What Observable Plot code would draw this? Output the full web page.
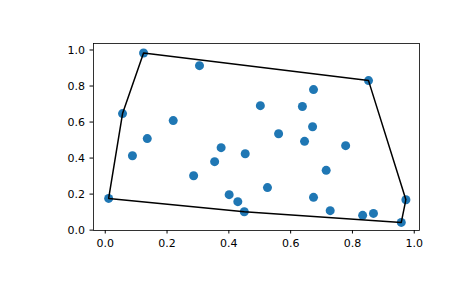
<!DOCTYPE html>
<html>
<head>
<meta charset="utf-8">
<script src="https://cdn.jsdelivr.net/npm/d3@7"></script>
<script src="https://cdn.jsdelivr.net/npm/@observablehq/plot@0.6"></script>
<style>
  html, body { margin: 0; padding: 0; background: #fff; }
</style>
</head>
<body>
<div id="chart"></div>
<script>
const xs = [0.124, 0.305, 0.056, 0.220, 0.136, 0.088, 0.375, 0.354, 0.286, 0.011,
            0.401, 0.429, 0.852, 0.674, 0.502, 0.638, 0.671, 0.561, 0.645, 0.778,
            0.453, 0.715, 0.525, 0.450, 0.674, 0.728, 0.833, 0.868, 0.973, 0.958];
const ys = [0.983, 0.913, 0.647, 0.608, 0.508, 0.413, 0.458, 0.380, 0.302, 0.176,
            0.197, 0.158, 0.830, 0.780, 0.691, 0.686, 0.574, 0.535, 0.493, 0.469,
            0.424, 0.332, 0.236, 0.102, 0.182, 0.108, 0.082, 0.093, 0.169, 0.043];
const tickValues = [0, 0.2, 0.4, 0.6, 0.8, 1.0];

const points = xs.map((x, i) => ({x, y: ys[i]}));
const hull = d3.polygonHull(points.map(p => [p.x, p.y]));
const hullPath = hull.concat([hull[0]]).map(([x, y]) => ({x, y}));

const chart = Plot.plot({
  width: 465,
  height: 288,
  marginLeft: 93,
  marginRight: 46,
  marginTop: 43,
  marginBottom: 58,
  style: {fontFamily: "DejaVu Sans", fontSize: "11px", background: "#fff", color: "black"},
  x: {domain: [-0.038, 1.017]},
  y: {domain: [-0.002, 1.036]},
  marks: [
    Plot.dot(points, {x: "x", y: "y", r: 4.5, fill: "#1f77b4", stroke: "none"}),
    Plot.line(hullPath, {x: "x", y: "y", stroke: "black", strokeWidth: 1.5, curve: "linear"}),
    Plot.frame({stroke: "black", strokeWidth: 0.8}),
    Plot.axisX({ticks: tickValues, tickFormat: d3.format(".1f"), tickSize: 3.5, tickPadding: 5, label: null, fontSize: 11}),
    Plot.axisY({ticks: tickValues, tickFormat: d3.format(".1f"), tickSize: 3.5, tickPadding: 5, label: null, fontSize: 11})
  ]
});
document.getElementById("chart").appendChild(chart);
</script>
</body>
</html>
